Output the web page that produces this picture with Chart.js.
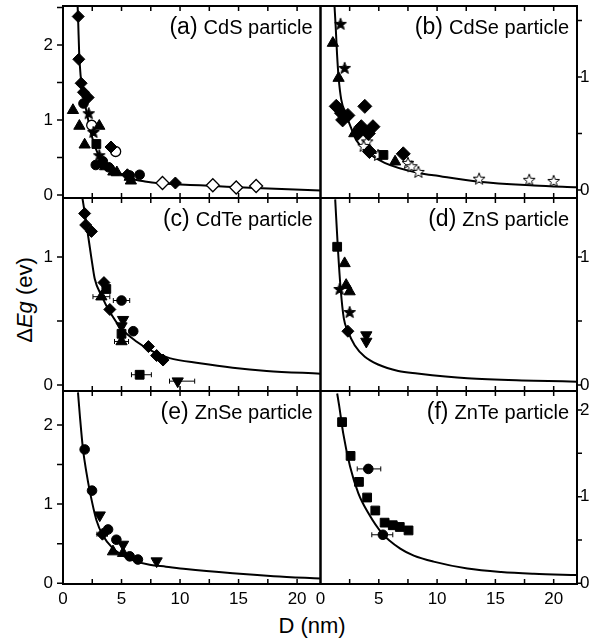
<!DOCTYPE html>
<html><head><meta charset="utf-8">
<script src="https://cdn.jsdelivr.net/npm/chart.js@4/dist/chart.umd.min.js"></script>
<style>
html,body{margin:0;padding:0;background:#fff;}
#wrap{position:relative;width:595px;height:643px;overflow:hidden;background:#fff;font-family:"Liberation Sans",Arial,Helvetica,sans-serif;color:#000;}
#wrap canvas{position:absolute;}
.ytitle{position:absolute;left:25px;top:300px;transform:translate(-50%,-50%) rotate(-90deg);font-size:22px;line-height:22px;white-space:nowrap;}
.xtitle{position:absolute;left:312px;top:615px;transform:translateX(-50%);font-size:22px;line-height:22px;white-space:nowrap;}
</style></head>
<body><div id="wrap">
<div class="ytitle">&Delta;<i>Eg</i> (ev)</div>
<div class="xtitle">D (nm)</div>
</div>
<script>
// ---------------- DATA (D in nm, ΔEg in eV) ----------------
const panelTags  = ['(a)', '(b)', '(c)', '(d)', '(e)', '(f)'];
const panelNames = ['CdS particle', 'CdSe particle', 'CdTe particle', 'ZnS particle', 'ZnSe particle', 'ZnTe particle'];
const xTickLabels = [0, 5, 10, 15, 20];

// (a) CdS
const aCurve = [[1.25,2.52],[1.3,2.3],[1.38,1.9],[1.5,1.6],[1.7,1.35],[2.0,1.12],[2.4,0.82],[3.1,0.51],[3.7,0.4],[4.4,0.33],[5.8,0.22],[7,0.18],[8.3,0.155],[10,0.14],[11.7,0.13],[14,0.11],[17,0.09],[22,0.06]];
const aDiamond = [[1.3,2.38],[1.35,1.81],[1.55,1.49],[1.75,1.37],[2.15,1.3],[4.1,0.64],[3.3,0.42],[5.5,0.27],[9.6,0.16]];
const aOpenDiamond = [[8.5,0.16],[12.8,0.13],[14.8,0.10],[16.5,0.12]];
const aTriangle = [[0.85,1.13],[1.4,0.92],[3.1,0.92],[1.85,0.67],[3.6,0.38],[4.3,0.31],[4.6,0.3],[5.7,0.24],[5.8,0.19]];
const aCircle = [[1.75,1.22],[2.8,0.40],[3.4,0.45],[3.9,0.37],[5.7,0.26],[6.55,0.27]];
const aStar = [[2.2,1.09],[2.6,0.84],[3.1,0.53]];
const aOpenCircle = [[2.45,0.93],[4.5,0.58]];
const aSquare = [[2.85,0.68]];

// (b) CdSe
const bCurve = [[1.2,1.63],[1.3,1.45],[1.42,1.2],[1.55,1.0],[1.78,0.8],[2.15,0.68],[2.58,0.56],[3.07,0.44],[4.08,0.33],[5.5,0.24],[8.4,0.15],[9.7,0.13],[13.6,0.073],[18.3,0.04],[22,0.024]];
const bStar = [[1.72,1.47],[2.07,1.08]];
const bTriangle = [[1.06,1.30],[1.55,0.99],[2.9,0.50],[6.4,0.25]];
const bDiamond = [[1.35,0.74],[3.8,0.74],[1.8,0.68],[2.35,0.66],[1.9,0.62],[3.5,0.56],[4.5,0.56],[3.2,0.50],[4.1,0.50],[7.1,0.32],[4.2,0.34]];
const bSquare = [[5.4,0.31]];
const bOpenStar = [[4.0,0.43],[3.7,0.39],[4.94,0.31],[7.5,0.24],[7.8,0.21],[8.4,0.16],[13.6,0.10],[17.9,0.09],[20,0.08]];

// (c) CdTe
const cCurve = [[1.66,1.46],[1.85,1.35],[2.14,1.17],[2.43,0.99],[2.71,0.83],[3.28,0.7],[4.0,0.57],[5.0,0.44],[6.27,0.34],[7.7,0.26],[9.1,0.21],[11.7,0.17],[14.5,0.135],[17.4,0.11],[22,0.088]];
const cDiamond = [[1.85,1.34],[1.94,1.25],[2.43,1.20],[3.5,0.80],[4.0,0.59],[7.3,0.30],[8.0,0.23],[8.55,0.195]];
const cSquare = [[3.7,0.75],[5.0,0.40],[6.55,0.08]];
const cTriangle = [[3.28,0.69],[5.0,0.34]];
const cCircle = [[5.0,0.66],[6.0,0.42]];
const cDownTri = [[5.13,0.51],[5.0,0.46],[9.8,0.03]];
const cErr = [[0.69,2.56,4.0],[0.66,4.3,5.7],[0.34,4.4,5.6],[0.08,5.85,7.55],[0.03,9.1,11.25]]; // [y, low D, high D]

// (d) ZnS
const dCurve = [[1.26,1.45],[1.49,1.07],[1.72,0.76],[2.0,0.52],[2.35,0.42],[2.93,0.31],[3.8,0.22],[4.94,0.16],[6.67,0.11],[8.3,0.09],[12.6,0.052],[18.3,0.034],[22,0.026]];
const dSquare = [[1.43,1.08]];
const dTriangle = [[2.07,0.95],[2.2,0.78],[2.5,0.73]];
const dStar = [[1.64,0.75],[2.5,0.57]];
const dDiamond = [[2.35,0.42]];
const dDownTri = [[3.93,0.39],[3.93,0.34]];

// (e) ZnSe
const eCurve = [[1.28,2.41],[1.45,2.1],[1.71,1.69],[2.0,1.4],[2.28,1.17],[2.85,0.8],[3.42,0.6],[4.2,0.45],[5.0,0.36],[6,0.29],[7.4,0.235],[8.8,0.21],[10.5,0.18],[14.5,0.127],[18,0.09],[22,0.06]];
const eCircle = [[1.85,1.69],[2.48,1.17],[3.85,0.68],[4.56,0.55],[5.7,0.34],[6.4,0.30]];
const eDownTri = [[3.14,0.86],[5.13,0.49],[8.0,0.28]];
const eDiamond = [[3.37,0.62]];
const eTriangle = [[4.27,0.40],[5.13,0.38]];
const eErr = [[0.62,2.9,3.8]];

// (f) ZnTe
const fCurve = [[1.43,2.19],[1.6,2.05],[1.95,1.73],[2.53,1.35],[3.24,1.04],[4.1,0.81],[5.26,0.58],[6.84,0.4],[8,0.32],[9.7,0.25],[12.6,0.17],[15.5,0.13],[18.3,0.11],[22,0.095]];
const fSquare = [[1.85,1.86],[2.58,1.47],[3.3,1.17],[4.0,0.99],[4.7,0.84],[5.5,0.70],[6.2,0.67],[6.8,0.65],[7.55,0.61]];
const fCircle = [[4.1,1.32],[5.35,0.56]];
const fErr = [[1.32,3.15,5.17],[0.56,4.4,6.2]];

// ---------------- STYLE ----------------
Chart.defaults.font.family = '"Liberation Sans", Arial, Helvetica, sans-serif';
Chart.defaults.font.size = 17;
Chart.defaults.color = '#000';

function makeStar(size, fill) {
  const c = document.createElement('canvas');
  c.width = c.height = size;
  const g = c.getContext('2d');
  const cx = size / 2, cy = size / 2 + 0.5, R = size / 2 - 0.8, r = R * 0.42;
  g.beginPath();
  for (let i = 0; i < 10; i++) {
    const ang = -Math.PI / 2 + i * Math.PI / 5;
    const rr = i % 2 ? r : R;
    g.lineTo(cx + rr * Math.cos(ang), cy + rr * Math.sin(ang));
  }
  g.closePath();
  g.fillStyle = fill; g.fill();
  g.lineWidth = 1; g.strokeStyle = '#000'; g.stroke();
  return c;
}
const starImg = makeStar(14, '#000');
const openStarImg = makeStar(14, '#fff');

const S = {
  diamond:     {pointStyle:'rectRot', r:6, fill:'#000'},
  bigDiamond:  {pointStyle:'rectRot', r:7, fill:'#000'},
  openDiamond: {pointStyle:'rectRot', r:6.5, fill:'#fff', bw:1.3},
  triangle:    {pointStyle:'triangle', r:6.5, fill:'#000'},
  downTri:     {pointStyle:'triangle', r:6.5, fill:'#000', rot:180},
  circle:      {pointStyle:'circle', r:4.8, fill:'#000'},
  openCircle:  {pointStyle:'circle', r:5, fill:'#fff', bw:1.3},
  square:      {pointStyle:'rect', r:6.2, fill:'#000'},
  star:        {pointStyle:starImg, r:6},
  openStar:    {pointStyle:openStarImg, r:6}
};

function pts(arr) { return arr.map(p => ({x:p[0], y:p[1]})); }
function markerSet(arr, st) {
  return {data:pts(arr), showLine:false, pointStyle:st.pointStyle, pointRadius:st.r,
    pointRotation:st.rot || 0, pointBackgroundColor:st.fill || '#000', pointBorderColor:'#000',
    pointBorderWidth:st.bw || 1, order:0};
}
function curveSet(arr) {
  return {data:pts(arr), showLine:true, borderColor:'#000', borderWidth:2, pointRadius:0,
    cubicInterpolationMode:'monotone', fill:false, order:10};
}
function errSets(arr) {
  return arr.map(e => ({data:[{x:e[1], y:e[0]}, {x:e[2], y:e[0]}], showLine:true, borderColor:'#000',
    borderWidth:1, pointStyle:'line', pointRotation:90, pointRadius:2.5, pointBorderColor:'#000',
    pointBorderWidth:1, order:5}));
}

const panels = [
  {col:0, row:0, ymin:-0.04, ymax:2.52, sets:[curveSet(aCurve), markerSet(aDiamond,S.diamond), markerSet(aOpenDiamond,S.openDiamond), markerSet(aTriangle,S.triangle), markerSet(aCircle,S.circle), markerSet(aStar,S.star), markerSet(aOpenCircle,S.openCircle), markerSet(aSquare,S.square)]},
  {col:1, row:0, ymin:-0.071, ymax:1.628, sets:[curveSet(bCurve), markerSet(bStar,S.star), markerSet(bTriangle,S.triangle), markerSet(bDiamond,S.bigDiamond), markerSet(bSquare,S.square), markerSet(bOpenStar,S.openStar)]},
  {col:0, row:1, ymin:-0.047, ymax:1.461, sets:[curveSet(cCurve), ...errSets(cErr), markerSet(cDiamond,S.diamond), markerSet(cSquare,S.square), markerSet(cTriangle,S.triangle), markerSet(cCircle,S.circle), markerSet(cDownTri,S.downTri)]},
  {col:1, row:1, ymin:-0.047, ymax:1.461, sets:[curveSet(dCurve), markerSet(dSquare,S.square), markerSet(dTriangle,S.triangle), markerSet(dStar,S.star), markerSet(dDiamond,S.diamond), markerSet(dDownTri,S.downTri)]},
  {col:0, row:2, ymin:-0.009, ymax:2.428, sets:[curveSet(eCurve), ...errSets(eErr), markerSet(eCircle,S.circle), markerSet(eDownTri,S.downTri), markerSet(eDiamond,S.diamond), markerSet(eTriangle,S.triangle)]},
  {col:1, row:2, ymin:-0.008, ymax:2.219, sets:[curveSet(fCurve), ...errSets(fErr), markerSet(fSquare,S.square), markerSet(fCircle,S.circle)]}
];

const COLS = [
  {left:0, width:323, padL:0, padR:2.5, yPos:'left', yW:63, yPad:10},
  {left:305, width:290, padL:15.5, padR:0, yPos:'right', yW:18, yPad:3}
];
const ROWS = [
  {top:0, height:201, padT:6, padB:3, xAxis:false},
  {top:195, height:199, padT:3, padB:3, xAxis:false},
  {top:388, height:255, padT:3, padB:0, xAxis:true, xH:59}
];

function zeroPad(s) { s.paddingTop = 0; s.paddingBottom = 0; s.paddingLeft = 0; s.paddingRight = 0; }

const framePlugin = {
  id:'frame',
  afterDatasetsDraw(chart, args, opts) {
    const ctx = chart.ctx, a = chart.chartArea, x = chart.scales.x, y = chart.scales.y;
    ctx.save();
    ctx.strokeStyle = '#000';
    ctx.lineWidth = 1.5;
    ctx.beginPath();
    for (let v = 2.5; v < x.max; v += 2.5) {
      const px = x.getPixelForValue(v);
      ctx.moveTo(px, a.bottom); ctx.lineTo(px, a.bottom - 5);
      ctx.moveTo(px, a.top); ctx.lineTo(px, a.top + 5);
    }
    for (let v = 0; v <= y.max; v += 0.5) {
      const py = y.getPixelForValue(v);
      if (opts.side === 'left') { ctx.moveTo(a.left, py); ctx.lineTo(a.left - 6, py); }
      else { ctx.moveTo(a.right, py); ctx.lineTo(a.right + 5, py); }
    }
    ctx.stroke();
    ctx.lineWidth = 2;
    ctx.strokeRect(a.left, a.top, a.right - a.left, a.bottom - a.top);
    // panel label
    ctx.fillStyle = '#000';
    ctx.textAlign = 'right';
    ctx.textBaseline = 'alphabetic';
    const xr = a.right - 8, yb = a.top + 28;
    ctx.font = '20px "Liberation Sans", Arial, sans-serif';
    ctx.fillText(opts.name, xr, yb);
    const w = ctx.measureText(opts.name).width;
    ctx.font = '23px "Liberation Sans", Arial, sans-serif';
    ctx.fillText(opts.tag, xr - w - 6, yb);
    ctx.restore();
  }
};

const wrap = document.getElementById('wrap');
panels.forEach((p, i) => {
  const col = COLS[p.col], row = ROWS[p.row];
  const cv = document.createElement('canvas');
  cv.width = col.width; cv.height = row.height;
  cv.style.left = col.left + 'px'; cv.style.top = row.top + 'px';
  cv.style.width = col.width + 'px'; cv.style.height = row.height + 'px';
  wrap.appendChild(cv);
  const xScale = {type:'linear', min:0, max:22, display:row.xAxis,
    grid:{display:false, drawTicks:false}, border:{display:false},
    ticks:{stepSize:5, includeBounds:false, padding:5, maxRotation:0, autoSkip:false,
      callback:(v) => xTickLabels.includes(v) ? String(v) : ''},
    afterFit:(s) => { zeroPad(s); if (row.xAxis) s.height = row.xH; }};
  new Chart(cv.getContext('2d'), {
    type:'scatter',
    data:{datasets:p.sets},
    options:{
      responsive:false, animation:false, devicePixelRatio:1,
      layout:{autoPadding:false, padding:{left:col.padL, right:col.padR, top:row.padT, bottom:row.padB}},
      plugins:{legend:{display:false}, tooltip:{enabled:false},
        frame:{side:col.yPos, tag:panelTags[i], name:panelNames[i]}},
      scales:{
        x:xScale,
        y:{type:'linear', position:col.yPos, min:p.ymin, max:p.ymax,
          grid:{display:false, drawTicks:false}, border:{display:false},
          ticks:{stepSize:1, includeBounds:false, padding:col.yPad},
          afterFit:(s) => { zeroPad(s); s.width = col.yW; }}
      }
    },
    plugins:[framePlugin]
  });
});
</script>
</body></html>
